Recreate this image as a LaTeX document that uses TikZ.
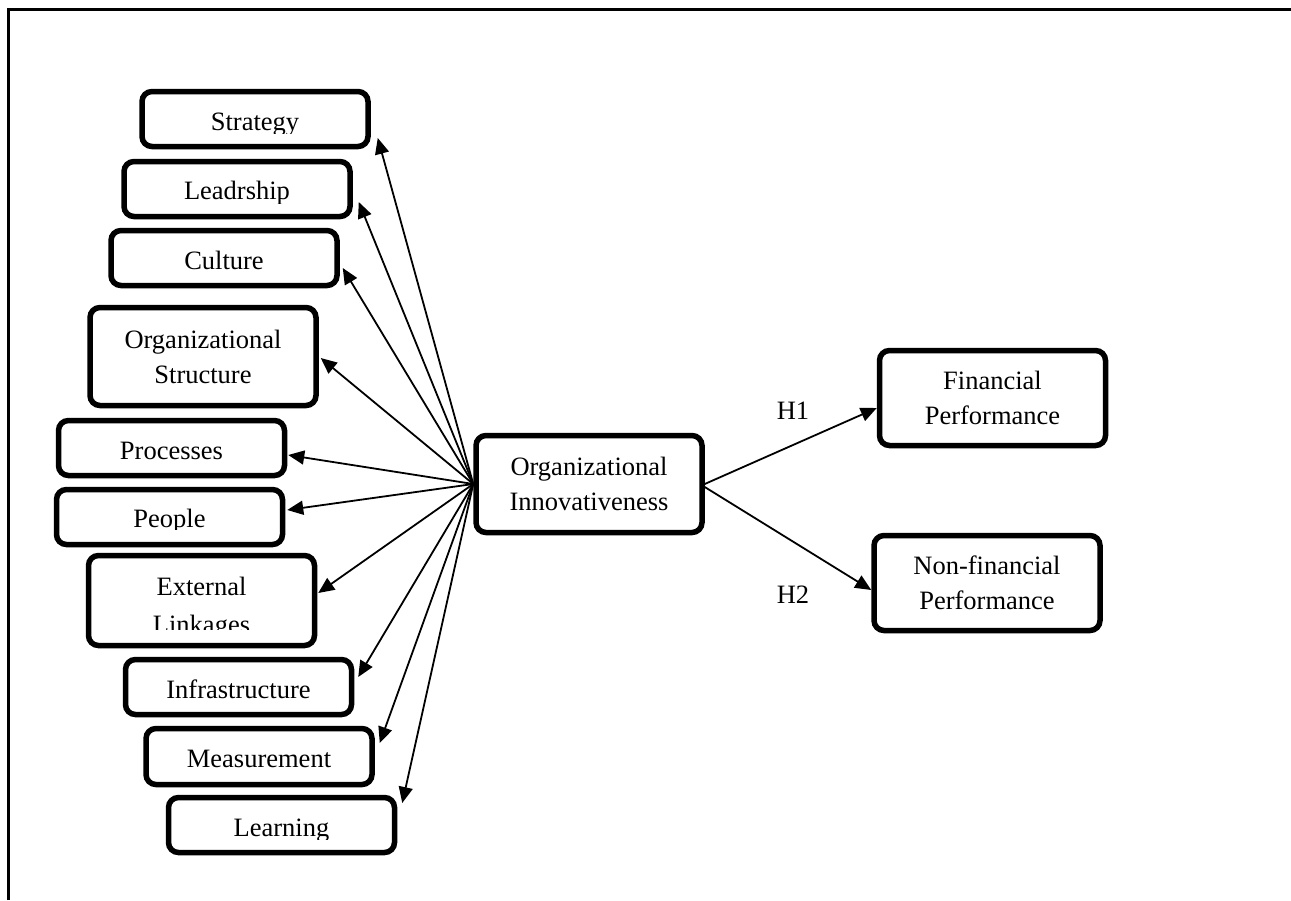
\documentclass[tikz,border=0pt]{standalone}
\usepackage{fontspec}
\setmainfont{Liberation Serif}
\usetikzlibrary{arrows.meta}
\begin{document}
\begin{tikzpicture}[x=1pt,y=-1pt,
  box/.style={draw, line width=5.5pt, rounded corners=10pt, minimum width=226pt,
    minimum height=55pt, align=center, inner sep=0pt,
    font=\fontsize{26.5}{35}\selectfont},
  oneline/.style={text height=24pt, text depth=2pt},
  tall/.style={minimum height=97pt},
  lbl/.style={inner sep=0pt, anchor=base, font=\fontsize{26.5}{35}\selectfont},
  link/.style={line width=1.8pt, -{Triangle[length=16pt,width=14pt]}},
  frame/.style={line width=2.5pt}
]
\useasboundingbox (0,0) rectangle (1291,900);

% open frame: top and left rules only
\draw[frame] (8.5,900) -- (8.5,9.5) -- (1291,9.5);

% factor boxes (left column)
\node[box] (strategy) at (255,119) {};
\node[box,oneline] (culture) at (224,258) {Culture};
\node[box] (leadership) at (237,189) {};
\node[box,tall,minimum height=98pt] (structure) at (203,356.5) {Organizational\\Structure};
\node[box,oneline] (processes) at (171.5,448) {Processes};
\node[box] (people) at (169.5,517) {};
\node[box,minimum height=90pt] (external) at (201.5,600.5) {};
\node[box,oneline] (infrastructure) at (238.5,687) {Infrastructure};
\node[box,oneline,minimum height=56pt] (measurement) at (259,756.5) {Measurement};
\node[box] (learning) at (281.5,825) {};

% labels whose lower part is cut off by the text frame
\begin{scope}
  \clip (130,80) rectangle (380,133);
  \node[lbl] (strategy-t) at (255,130) {Strategy};
\end{scope}
\begin{scope}
  \clip (115,150) rectangle (360,203);
  \node[lbl] (leadership-t) at (237,199.3) {Leadrship};
\end{scope}
\begin{scope}
  \clip (50,480) rectangle (290,529);
  \node[lbl] (people-t) at (169.5,527) {People};
\end{scope}
\begin{scope}
  \clip (80,550) rectangle (320,629);
  \node[lbl] (external-t1) at (201.5,595) {External};
  \node[lbl] (external-t2) at (201.5,633) {Linkages};
\end{scope}
\begin{scope}
  \clip (160,790) rectangle (400,839);
  \node[lbl] (learning-t) at (281.5,836.5) {Learning};
\end{scope}

% central construct and outcomes
\node[box,tall] (oi) at (589,484) {Organizational\\Innovativeness};
\node[box,minimum height=95pt] (fin) at (992.5,398) {Financial\\Performance};
\node[box,minimum height=95pt] (nonfin) at (987,583) {Non-financial\\Performance};

% hypothesis labels
\node[lbl,anchor=center] (h1) at (793,411) {H1};
\node[lbl,anchor=center] (h2) at (793,595) {H2};

% links from the central construct to each factor
\draw[link] (oi.west) -- ([xshift=7pt,yshift=-19pt]strategy.east);
\draw[link] (oi.west) -- ([xshift=6pt,yshift=-13pt]leadership.east);
\draw[link] (oi.west) -- ([xshift=3pt,yshift=-10pt]culture.east);
\draw[link] (oi.west) -- ([xshift=2pt,yshift=-1.5pt]structure.east);
\draw[link] (oi.west) -- ([xshift=1pt,yshift=-7pt]processes.east);
\draw[link] (oi.west) -- ([xshift=2pt,yshift=7pt]people.east);
\draw[link] (oi.west) -- ([xshift=1pt,yshift=7.5pt]external.east);
\draw[link] (oi.west) -- ([xshift=4pt,yshift=10pt]infrastructure.east);
\draw[link] (oi.west) -- ([xshift=5pt,yshift=13.5pt]measurement.east);
\draw[link] (oi.west) -- ([xshift=5pt,yshift=22pt]learning.east);

% hypothesised paths to performance
\draw[link] (oi.east) -- ([yshift=-10pt]fin.west);
\draw[link] ([yshift=-3pt]oi.east) -- ([yshift=-7pt]nonfin.west);
\end{tikzpicture}
\end{document}
